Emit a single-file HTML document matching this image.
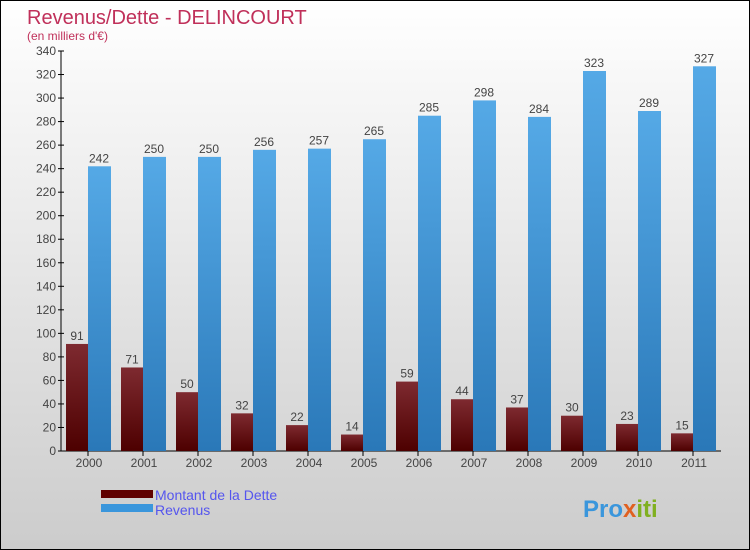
<!DOCTYPE html>
<html><head><meta charset="utf-8"><style>
body{margin:0}
#c{width:748px;height:548px;border:1px solid #000;background:linear-gradient(#fff,#ccc);position:relative;font-family:"Liberation Sans",sans-serif;overflow:hidden}
</style></head><body>
<div id="c">
<svg id="s" width="748" height="548">
<defs>
<linearGradient id="gd" x1="0" y1="0" x2="0" y2="1"><stop offset="0" stop-color="#7e2a30"/><stop offset="1" stop-color="#4d0000"/></linearGradient>
<linearGradient id="gr" x1="0" y1="0" x2="0" y2="1"><stop offset="0" stop-color="#55a9e6"/><stop offset="1" stop-color="#2a78b8"/></linearGradient>
</defs>
<text x="26" y="23" font-size="20" fill="#c0305a">Revenus/Dette - DELINCOURT</text>
<text x="26" y="39" font-size="12" fill="#c0305a">(en milliers d'€)</text>
<g id="ax"></g><g id="bars"></g>
<rect x="100" y="489" width="52" height="8" fill="#600000"/>
<rect x="100" y="503" width="52" height="8" fill="#3a96dc"/>
<text x="154" y="499" font-size="14" fill="#5555ee">Montant de la Dette</text>
<text x="154" y="514" font-size="14" fill="#5555ee">Revenus</text>
<text x="582" y="516" font-size="24" font-weight="bold" fill="#3a96dc">Pro<tspan fill="#e06020">x</tspan><tspan fill="#80b020">iti</tspan></text>
</svg></div>
<script>
const years=["2000","2001","2002","2003","2004","2005","2006","2007","2008","2009","2010","2011"];
const debt=[91,71,50,32,22,14,59,44,37,30,23,15];
const revenue=[242,250,250,256,257,265,285,298,284,323,289,327];
const ticks=[0,20,40,60,80,100,120,140,160,180,200,220,240,260,280,300,320,340];
const NS="http://www.w3.org/2000/svg";
const y=v=>450-v*400/340, x0=i=>65+55*i;
function mk(t,a,p,txt){const e=document.createElementNS(NS,t);for(const k in a)e.setAttribute(k,a[k]);if(txt!=null)e.textContent=txt;p.appendChild(e);return e;}
const ax=document.getElementById('ax'),bg=document.getElementById('bars');
const yl=mk('line',{x1:60,y1:50,x2:60,y2:450,stroke:'#000'},ax);


const xl=mk('line',{x1:60,y1:450,x2:720,y2:450,stroke:'#000'},ax);


ticks.forEach(t=>{mk('line',{x1:57,x2:63,y1:y(t),y2:y(t),stroke:'#000'},ax);
const l=mk('text',{x:55,y:y(t)+4,'font-size':12,fill:'#444','text-anchor':'end'},ax,t);

});
years.forEach((yr,i)=>{const x=x0(i);
mk('line',{x1:x+22,x2:x+22,y1:450,y2:455,stroke:'#000'},ax);
const l=mk('text',{x:x+23,y:466,'font-size':12,fill:'#444','text-anchor':'middle'},ax,yr);


const b=mk('rect',{x:x,y:y(debt[i]),width:22,height:450-y(debt[i]),fill:'url(#gd)'},bg);


const r=mk('rect',{x:x+22,y:y(revenue[i]),width:23,height:450-y(revenue[i]),fill:'url(#gr)'},bg);


const dl=mk('text',{x:x+11,y:y(debt[i])-4,'font-size':12,fill:'#444','text-anchor':'middle'},bg,debt[i]);


const rl=mk('text',{x:x+33,y:y(revenue[i])-4,'font-size':12,fill:'#444','text-anchor':'middle'},bg,revenue[i]);

});
</script></body></html>
